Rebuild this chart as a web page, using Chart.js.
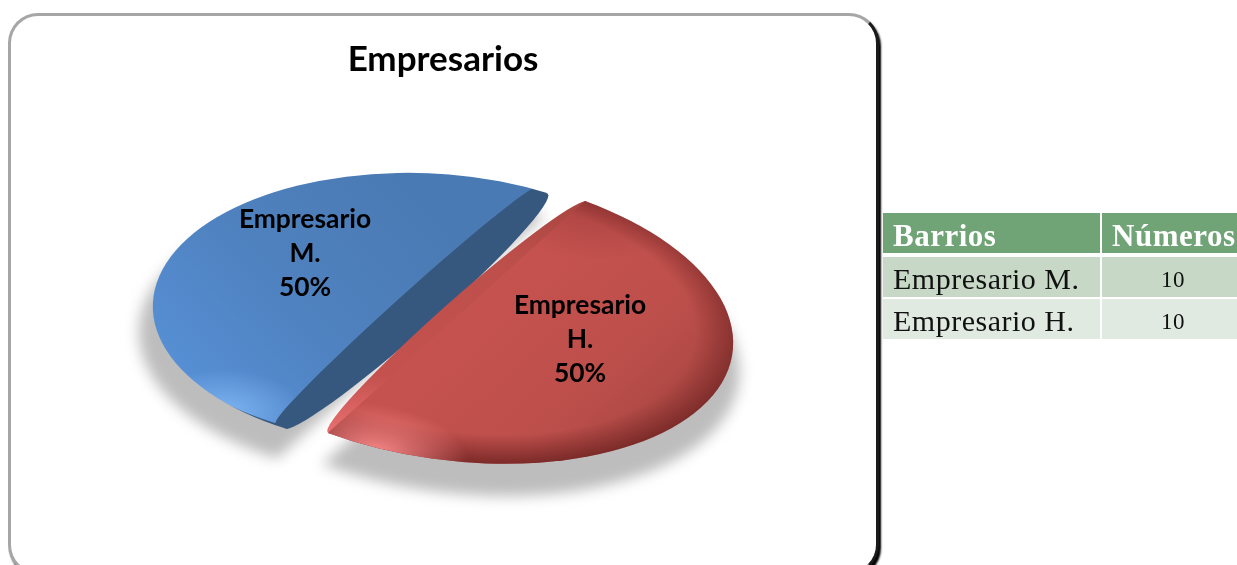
<!DOCTYPE html>
<html>
<head>
<meta charset="utf-8">
<title>Empresarios</title>
<script src="https://cdn.jsdelivr.net/npm/chart.js@4"></script>
<style>
    html, body { margin: 0; padding: 0; background: #fff; width: 1237px; height: 565px; overflow: hidden; }
    #frame {
        position: absolute; left: 8px; top: 13px; width: 865px; height: 556px;
        border: 3px solid #a6a6a6; border-right-color: #1a1a1a; border-bottom-color: #8a8a8a;
        border-radius: 30px; background: #fff;
        box-shadow: 2px 3px 2px #000;
    }
    #chart { position: absolute; left: 0; top: 0; }
    #side {
        position: absolute; left: 883px; top: 213px; width: 354px; overflow: hidden;
        font-family: "Liberation Serif", serif; color: #111;
    }
    #side table { border-collapse: separate; border-spacing: 0; width: 360px; table-layout: fixed; }
    #side th, #side td { padding: 0; height: 40px; border-right: 2px solid #fff; box-sizing: border-box; }
    #side th { background: #70a376; color: #fff; font-size: 31px; line-height: 34px; font-weight: bold; text-align: left; padding: 5px 0 0 10px; border-bottom: 4px solid #fff; height: 44px; letter-spacing: .5px; }
    #side td { font-size: 30px; line-height: 32px; padding: 4px 0 0 10px; letter-spacing: .5px; }
    #side th:first-child, #side td:first-child { width: 219px; }
    #side td.num { font-size: 23px; text-align: center; padding: 5px 0 0 3px; }
    #side tr.odd td { background: #c7d9c6; border-bottom: 2px solid #fff; height: 42px; }
    #side tr.even td { background: #e1eae1; }
</style>
</head>
<body>
<div id="frame"></div>
<canvas id="chart" width="886" height="565"></canvas>
<div id="side"><table id="tbl"></table></div>
<script>
    // Data
    const chartTitle = 'Empresarios';
    const categories = ['Empresario M.', 'Empresario H.'];
    const values = [10, 10];
    const tableHeaders = ['Barrios', 'Números'];

    // Where each exploded wedge lands: centre of the cut, half cut (u), half depth (v)
    const blueFrame = { cx: 417, cy: 311, ux: 130, uy: -118, vx: 230, vy: 72 };
    const blueTop = { cx: 405, cy: 305, ux: 130, uy: -118, vx: 230, vy: 72 };
    const blueBulge = { cx: 415.5, cy: 311, ux: 130, uy: -118, vx: 27.5, vy: 0 };
    const blueHollow = { cx: 406.5, cy: 305, ux: 130, uy: -118, vx: 14.5, vy: 0 };
    const redFrame = { cx: 456.5, cy: 317, ux: 128.5, uy: -116, vx: 245, vy: 90 };
    const redBulge = { cx: 458, cy: 317, ux: 128.5, uy: -116, vx: 24.5, vy: 0 };
    const labelCentres = [[305, 252], [580, 338]];

    function place(ctx, arc, f, grow, dx, dy) {
        const R = arc.outerRadius;
        ctx.translate(f.cx + dx, f.cy + dy);
        ctx.transform(grow * f.vx / R, grow * f.vy / R, -grow * f.ux / R, -grow * f.uy / R, 0, 0);
        ctx.translate(-arc.x, -arc.y);
    }

    function paint(ctx, arc, fill) {
        const saved = arc.options;
        arc.options = Object.assign({}, saved, { backgroundColor: fill, borderWidth: 0 });
        arc.draw(ctx);
        arc.options = saved;
    }

    function linear(ctx, x0, y0, x1, y1, stops) {
        const g = ctx.createLinearGradient(x0, y0, x1, y1);
        stops.forEach(s => g.addColorStop(s[0], s[1]));
        return g;
    }

    function radial(ctx, x, y, r, stops) {
        const g = ctx.createRadialGradient(x, y, 0, x, y, r);
        stops.forEach(s => g.addColorStop(s[0], s[1]));
        return g;
    }

    function drawShadow(ctx, arc, f, dx, dy) {
        ctx.save();
        ctx.filter = 'blur(7px)';
        place(ctx, arc, f, 1.03, dx, dy);
        paint(ctx, arc, '#bdbdbd');
        ctx.restore();
    }

    function drawBlue(ctx, arcs) {
        const arc = arcs[0];
        const R = arc.outerRadius, x = arc.x, y = arc.y;
        // the dark cut face is the wedge itself, the lit top is the same wedge pushed back
        const layer = document.createElement('canvas');
        layer.width = ctx.canvas.width;
        layer.height = ctx.canvas.height;
        const off = layer.getContext('2d');
        off.save();
        place(off, arcs[1], blueBulge, 1, 0, 0);
        paint(off, arcs[1], '#36587f');
        off.restore();
        off.save();
        place(off, arc, blueFrame, 1, 0, 0);
        paint(off, arc, '#36587f');
        off.restore();
        off.globalCompositeOperation = 'source-atop';
        off.save();
        place(off, arc, blueTop, 1.0, 0, 0);
        paint(off, arc, linear(off, x - R, y + R, x, y - R * 0.5, [[0, '#5c98e2'], [0.55, '#4f82c0'], [1, '#4a7ab3']]));
        paint(off, arc, radial(off, x - R * 0.2, y + R * 1.02, R * 0.3, [[0, 'rgba(135,190,250,0.75)'], [1, 'rgba(135,190,250,0)']]));
        off.restore();
        off.save();
        place(off, arc, blueHollow, 1, 0, 0);
        paint(off, arc, '#36587f');
        off.restore();
        ctx.drawImage(layer, 0, 0);
    }

    function drawRed(ctx, arcs) {
        const arc = arcs[1], bump = arcs[0];
        const R = arc.outerRadius, x = arc.x, y = arc.y;
        ctx.save();
        place(ctx, bump, redBulge, 1, 0, 0);
        paint(ctx, bump, linear(ctx, x, y - R, x, y + R, [[0, '#a8453f'], [0.25, '#bd4f4b'], [0.75, '#c4514e'], [1, '#e87070']]));
        ctx.restore();
        ctx.save();
        place(ctx, arc, redFrame, 1, 0, 0);
        paint(ctx, arc, linear(ctx, x, y, x + R, y, [[0, '#c6524f'], [0.6, '#bd4f4b'], [1, '#a84642']]));
        paint(ctx, arc, radial(ctx, x, y - R * 0.05, R * 1.05, [[0, 'rgba(85,20,20,0)'], [0.8, 'rgba(85,20,20,0)'], [1, 'rgba(85,20,20,0.65)']]));
        paint(ctx, arc, radial(ctx, x, y - R, R * 0.4, [[0, 'rgba(120,40,40,0.35)'], [1, 'rgba(120,40,40,0)']]));
        paint(ctx, arc, radial(ctx, x + R * 0.2, y + R * 1.02, R * 0.34, [[0, 'rgba(255,140,140,1)'], [1, 'rgba(255,140,140,0)']]));
        ctx.restore();
    }

    function drawLabels(ctx, total) {
        ctx.save();
        ctx.fillStyle = '#000';
        ctx.font = 'bold 26.4px Lato';
        ctx.textAlign = 'center';
        ctx.textBaseline = 'middle';
        categories.forEach((name, i) => {
            const lines = name.split(' ').concat(Math.round(values[i] / total * 100) + '%');
            lines.forEach((line, k) => {
                ctx.fillText(line, labelCentres[i][0], labelCentres[i][1] + 1 + (k - 1) * 34);
            });
        });
        ctx.restore();
    }

    const explodedPie = {
        id: 'explodedPie',
        beforeDatasetsDraw(chart) {
            const { ctx } = chart;
            const arcs = chart.getDatasetMeta(0).data;
            drawShadow(ctx, arcs[0], blueFrame, -6, 26);
            drawShadow(ctx, arcs[1], redFrame, -2, 28);
            drawBlue(ctx, arcs);
            drawRed(ctx, arcs);
            drawLabels(ctx, values.reduce((a, b) => a + b, 0));
            return false; // already drawn
        }
    };

    new Chart(document.getElementById('chart').getContext('2d'), {
        type: 'pie',
        data: {
            labels: categories,
            datasets: [{ data: values, backgroundColor: ['#4f81bd', '#c0504d'], borderWidth: 0 }]
        },
        options: {
            responsive: false,
            animation: false,
            rotation: 180,
            plugins: {
                legend: { display: false },
                tooltip: { enabled: false },
                title: {
                    display: true,
                    text: chartTitle,
                    color: '#000',
                    font: { family: 'Lato', size: 35, weight: 'bold' },
                    padding: { top: 39, bottom: 10 }
                }
            }
        },
        plugins: [explodedPie]
    });

    // Side table
    const tbl = document.getElementById('tbl');
    const head = tbl.insertRow();
    tableHeaders.forEach(h => {
        const th = document.createElement('th');
        th.textContent = h;
        head.appendChild(th);
    });
    categories.forEach((name, i) => {
        const row = tbl.insertRow();
        row.className = i % 2 === 0 ? 'odd' : 'even';
        row.insertCell().textContent = name;
        const c = row.insertCell();
        c.className = 'num';
        c.textContent = values[i];
    });
</script>
</body>
</html>
